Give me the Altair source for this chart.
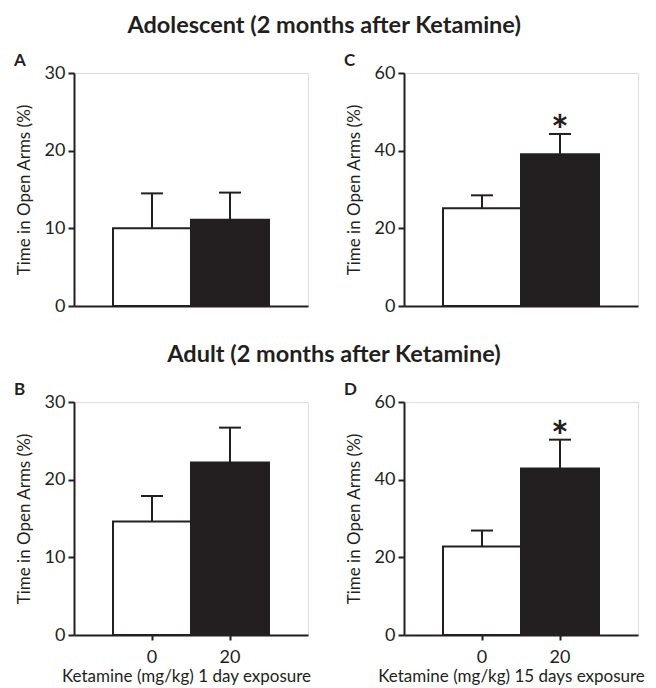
import altair as alt
import pandas as pd

doses = ["0", "20"]

# Panel A: adolescent, 1 day exposure
a_mean = [10.0, 11.1]
a_err = [4.5, 3.5]
a_star = ["", ""]
# Panel C: adolescent, 15 days exposure
c_mean = [25.2, 39.1]
c_err = [3.3, 5.2]
c_star = ["", "*"]
# Panel B: adult, 1 day exposure
b_mean = [14.6, 22.2]
b_err = [3.3, 4.5]
b_star = ["", ""]
# Panel D: adult, 15 days exposure
d_mean = [22.8, 42.9]
d_err = [4.1, 7.4]
d_star = ["", "*"]

y_ticks_small = [0, 10, 20, 30]
y_ticks_large = [0, 20, 40, 60]

title_top = "Adolescent (2 months after Ketamine)"
title_mid = "Adult (2 months after Ketamine)"
x_title_1 = "Ketamine (mg/kg) 1 day exposure"
x_title_15 = "Ketamine (mg/kg) 15 days exposure"
y_title = "Time in Open Arms (%)"

INK = "#231f20"
FONT = "Lato"
W, H = 234, 233


def panel(letter, mean, err, star, yticks, x_title=None, x_title_x=117, mid_title=None):
    df = pd.DataFrame({
        "dose": doses,
        "mean": mean,
        "upper": [m + e for m, e in zip(mean, err)],
        "star": star,
    })
    if x_title:
        xaxis = alt.Axis(title=x_title, labelAngle=0, labelFontSize=18, labelColor=INK,
                         labelPadding=8, ticks=True, tickSize=5, tickWidth=2, tickColor=INK,
                         domainColor=INK, domainWidth=2, titleFontSize=17,
                         titleFontWeight="normal", titleColor=INK, titlePadding=2,
                         titleX=x_title_x, grid=False, labelFont=FONT, titleFont=FONT)
    else:
        xaxis = alt.Axis(title=None, labels=False, ticks=False, domainColor=INK,
                         domainWidth=2, grid=False)
    xscale = alt.Scale(domain=doses, paddingInner=0, paddingOuter=0.5)
    x = alt.X("dose:N", sort=doses, scale=xscale, axis=xaxis)
    y = alt.Y("mean:Q", scale=alt.Scale(domain=[0, yticks[-1]], nice=False),
              axis=alt.Axis(values=yticks, title=y_title, grid=False, domainColor=INK,
                            domainWidth=2, tickColor=INK, tickWidth=2, tickSize=6,
                            labelPadding=3, labelFontSize=18, labelColor=INK,
                            labelFont=FONT, titleFont=FONT, titleFontSize=17,
                            titleFontWeight="normal", titleColor=INK, titlePadding=11))
    base = alt.Chart(df)
    bars = base.mark_bar(stroke=INK, strokeWidth=2).encode(
        x=x, y=y,
        fill=alt.Fill("dose:N", scale=alt.Scale(domain=doses, range=["#ffffff", INK]),
                      legend=None),
    )
    rule = base.mark_rule(color=INK, strokeWidth=2).encode(
        x=alt.X("dose:N", sort=doses), y=alt.Y("mean:Q"), y2="upper:Q")
    cap = base.mark_tick(color=INK, thickness=2, size=22, opacity=1).encode(
        x=alt.X("dose:N", sort=doses), y=alt.Y("upper:Q"))
    stars = base.transform_filter("datum.star != ''").mark_text(
        fontSize=42, fontWeight="bold", font=FONT, color=INK, baseline="alphabetic",
        dy=12).encode(x=alt.X("dose:N", sort=doses), y=alt.Y("upper:Q"), text="star:N")
    letter_mark = alt.Chart(pd.DataFrame({"t": [letter]})).mark_text(
        align="left", baseline="alphabetic", fontSize=17, fontWeight="bold", font=FONT,
        color=INK).encode(x=alt.value(-60), y=alt.value(-7), text="t:N")
    layers = [bars, rule, cap, stars, letter_mark]
    if mid_title:
        layers.append(alt.Chart(pd.DataFrame({"t": [mid_title]})).mark_text(
            align="center", baseline="alphabetic", fontSize=23.5, fontWeight="bold",
            font=FONT, color=INK).encode(x=alt.value(260), y=alt.value(-40), text="t:N"))
    return alt.layer(*layers).properties(width=W, height=H)


pA = panel("A", a_mean, a_err, a_star, y_ticks_small)
pC = panel("C", c_mean, c_err, c_star, y_ticks_large)
pB = panel("B", b_mean, b_err, b_star, y_ticks_small, x_title=x_title_1, x_title_x=112,
           mid_title=title_mid)
pD = panel("D", d_mean, d_err, d_star, y_ticks_large, x_title=x_title_15, x_title_x=107)

chart = alt.concat(pA, pC, pB, pD, columns=2, spacing=96, bounds="flush").properties(
    title=alt.TitleParams(title_top, fontSize=23.5, fontWeight="bold", font=FONT, color=INK,
                          anchor="middle", offset=14, dx=-5),
    padding={"left": 5, "top": 6, "right": 0, "bottom": 0},
).configure_view(stroke=None).configure(font=FONT, background="white")

chart.save("out.html", embed_options={"renderer": "svg", "actions": False})
